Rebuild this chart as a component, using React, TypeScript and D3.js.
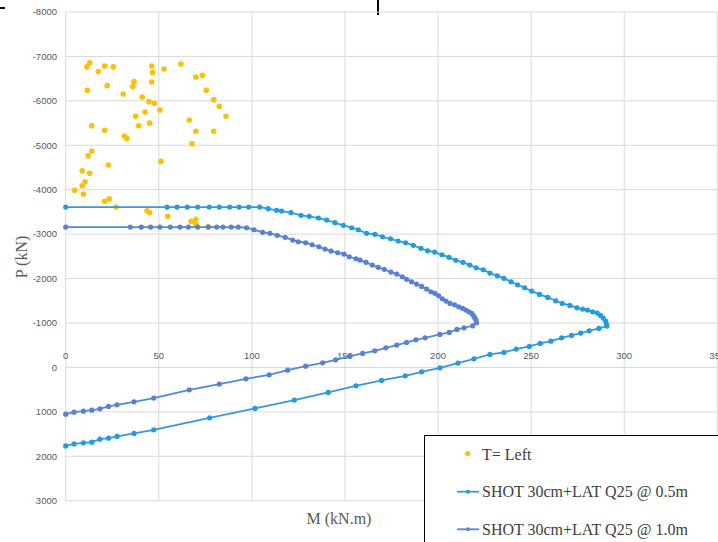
import { useMemo } from 'react';
import * as d3 from 'd3';

type Pt = [number, number];

// T= Left (scatter, M kN.m / P kN)
const tLeft: Pt[] = [
  [4.8, -3986], [9.5, -3903], [8.9, -4090], [10.4, -4180], [8.9, -4428], [12.9, -4369],
  [12.0, -4766], [14.0, -4872], [14.0, -5441], [11.6, -6239], [11.4, -6764], [12.9, -6854],
  [17.5, -6658], [20.9, -6786], [25.6, -6764], [22.3, -6342], [20.9, -5338], [22.9, -4556],
  [20.9, -3739], [23.4, -3797], [27.0, -3610], [30.9, -6155], [31.5, -5209], [32.9, -5149],
  [36.7, -6432], [36.1, -6320], [37.6, -5653], [39.2, -5441], [41.1, -6088], [42.6, -5750],
  [44.7, -5982], [45.1, -5502], [46.2, -6786], [46.7, -6635], [46.2, -6425], [47.6, -5946],
  [50.6, -5795], [52.8, -6718], [51.2, -4640], [43.7, -3527], [45.1, -3482], [54.8, -3401],
  [61.9, -6831], [69.9, -6538], [73.4, -6577], [75.5, -6239], [79.5, -6027], [82.5, -5878],
  [86.1, -5653], [79.5, -5315], [66.4, -5570], [69.9, -5315], [67.8, -5036], [67.3, -3288],
  [69.9, -3333], [69.9, -3221], [76.6, -3167],
];

// SHOT 30cm+LAT Q25 @ 0.5m
const shot05: Pt[] = [
  [0, -3610], [54.4, -3610], [59.8, -3610], [65.3, -3610], [70.9, -3610], [77.1, -3610],
  [82.5, -3610], [88.1, -3610], [93.1, -3610], [98.3, -3610], [104.2, -3610], [108.8, -3572],
  [113.3, -3536], [116.0, -3520], [121.0, -3482], [126.4, -3423], [130.8, -3401], [135.7, -3363],
  [140.2, -3318], [144.6, -3257], [149.1, -3198], [153.6, -3144], [157.2, -3099], [161.6, -3018],
  [166.1, -2995], [170.2, -2941], [174.5, -2896], [178.6, -2845], [182.6, -2806], [186.7, -2748],
  [190.8, -2680], [194.4, -2626], [198.2, -2597], [202.1, -2536], [205.9, -2477], [209.6, -2410],
  [213.4, -2365], [217.1, -2304], [220.5, -2243], [224.3, -2198], [227.9, -2124], [231.8, -2063],
  [235.4, -2005], [239.2, -1928], [242.7, -1860], [246.5, -1793], [250.3, -1718], [254.5, -1644],
  [259.0, -1576], [263.2, -1500], [266.7, -1441], [270.8, -1396], [274.6, -1342], [277.7, -1313],
  [280.3, -1291], [283.0, -1252], [285.5, -1223], [287.3, -1171], [288.7, -1110], [290.0, -1043],
  [290.5, -975], [290.7, -930], [286.4, -878], [281.2, -824], [276.6, -773], [271.7, -721],
  [266.4, -667], [260.6, -590], [254.9, -541], [249.0, -473], [242.0, -412], [235.4, -338],
  [227.9, -293], [219.3, -194], [210.7, -97], [201.0, 9], [191.2, 99], [182.4, 189],
  [169.7, 293], [155.9, 414], [141.0, 563], [122.8, 736], [101.7, 923], [77.3, 1135],
  [47.3, 1405], [36.7, 1486], [27.6, 1554], [23.0, 1592], [18.4, 1615], [14.0, 1682],
  [9.5, 1698], [4.5, 1721], [0, 1766],
];

// SHOT 30cm+LAT Q25 @ 1.0m
const shot10: Pt[] = [
  [0, -3160], [34.7, -3160], [40.6, -3160], [45.6, -3160], [50.6, -3160], [56.2, -3160],
  [61.4, -3160], [65.9, -3160], [70.9, -3160], [76.6, -3160], [81.1, -3160], [84.5, -3160],
  [88.9, -3160], [92.7, -3160], [97.2, -3144], [101.1, -3099], [105.8, -3041], [109.7, -3018],
  [113.6, -2973], [117.9, -2928], [121.9, -2867], [124.9, -2829], [128.9, -2806], [132.4, -2761],
  [136.0, -2716], [139.3, -2664], [142.5, -2619], [146.1, -2581], [149.5, -2552], [152.3, -2491],
  [155.9, -2446], [158.1, -2417], [161.3, -2365], [164.7, -2304], [167.9, -2252], [171.1, -2207],
  [174.7, -2146], [177.8, -2101], [180.8, -2041], [183.1, -1982], [185.8, -1928], [188.5, -1876],
  [191.2, -1824], [193.9, -1764], [196.2, -1703], [198.3, -1667], [200.3, -1613], [202.3, -1545],
  [204.3, -1493], [206.4, -1441], [208.9, -1410], [211.1, -1365], [213.2, -1329], [215.0, -1291],
  [216.6, -1252], [218.1, -1216], [219.1, -1162], [219.8, -1110], [220.4, -1059], [220.7, -1005],
  [218.6, -937], [214.0, -892], [210.2, -856], [206.0, -788], [201.0, -743], [193.1, -667],
  [188.1, -622], [183.1, -563], [177.8, -502], [172.0, -441], [166.0, -374], [159.5, -315],
  [152.3, -250], [145.0, -171], [138.0, -104], [128.9, -29], [119.2, 61], [109.3, 167],
  [96.8, 257], [82.5, 376], [66.4, 504], [47.3, 691], [36.7, 775], [27.6, 842],
  [23.0, 878], [18.4, 932], [14.0, 962], [9.5, 984], [4.5, 1007], [0, 1052],
];

const xTicks = [0, 50, 100, 150, 200, 250, 300, 350];
const yTicks = [-8000, -7000, -6000, -5000, -4000, -3000, -2000, -1000, 0, 1000, 2000, 3000];
const legendLabels = ['T= Left', 'SHOT 30cm+LAT Q25 @ 0.5m', 'SHOT 30cm+LAT Q25 @ 1.0m'];

const W = 718;
const H = 542;

export default function App() {
  const x = useMemo(() => d3.scaleLinear().domain([0, 350]).range([65.7, 717.3]), []);
  const y = useMemo(() => d3.scaleLinear().domain([-8000, 3000]).range([12, 500.7]), []);

  const line = d3
    .line<Pt>()
    .x((d) => x(d[0]))
    .y((d) => y(d[1]));

  const series = [
    { data: shot05, line: '#3a97dc', dot: '#1f9de2' },
    { data: shot10, line: '#4f8ad8', dot: '#5a80d4' },
  ];

  const tickFont = { fontFamily: '"Liberation Sans", Arial, sans-serif', fontSize: 9.5, fill: '#595959' };
  const serif = '"Liberation Serif", "Times New Roman", serif';

  return (
    <svg width={W} height={H} style={{ position: 'absolute', left: 0, top: 0, background: '#fff' }}>
      {/* cropped bits from the original screenshot */}
      <rect x={0} y={7} width={5} height={2} fill="#000" />
      <rect x={377} y={0} width={2} height={15} fill="#000" />

      {/* grid */}
      <g stroke="#d9d9d9" strokeWidth={1}>
        {yTicks.map((t) => (
          <line key={'h' + t} x1={x(0)} x2={x(350)} y1={y(t)} y2={y(t)} />
        ))}
        {xTicks.map((t) => (
          <line key={'v' + t} x1={x(t)} x2={x(t)} y1={y(-8000)} y2={y(3000)} />
        ))}
      </g>

      {/* y tick labels */}
      {yTicks.map((t) => (
        <text key={'yl' + t} x={57} y={y(t)} dy="0.35em" textAnchor="end" {...tickFont}>
          {String(t)}
        </text>
      ))}
      {/* x tick labels, sitting above the 0 line */}
      {xTicks.map((t) => (
        <text key={'xl' + t} x={x(t)} y={y(0) - 12} dy="0.35em" textAnchor="middle" {...tickFont}>
          {String(t)}
        </text>
      ))}

      {/* scatter */}
      <g fill="#ffc000">
        {tLeft.map((d, i) => (
          <circle key={'s' + i} cx={x(d[0])} cy={y(d[1])} r={2.8} />
        ))}
      </g>

      {/* interaction curves */}
      {series.map((s, si) => (
        <g key={'ser' + si}>
          <path d={line(s.data) ?? ''} fill="none" stroke={s.line} strokeWidth={1.8} />
          {s.data.map((d, i) => (
            <circle key={i} cx={x(d[0])} cy={y(d[1])} r={2.6} fill={s.dot} />
          ))}
        </g>
      ))}

      {/* axis titles */}
      <text
        transform={`translate(27,257) rotate(-90)`}
        textAnchor="middle"
        fontFamily={serif}
        fontSize={16}
        fill="#595959"
      >
        P (kN)
      </text>
      <text x={339} y={524} textAnchor="middle" fontFamily={serif} fontSize={16} fill="#595959">
        M (kN.m)
      </text>

      {/* legend */}
      <rect x={424.5} y={435.5} width={W} height={H} fill="#fff" stroke="#000" strokeWidth={1} />
      <circle cx={467.7} cy={453.5} r={2.6} fill="#ffc000" />
      <line x1={457} x2={479} y1={491.7} y2={491.7} stroke={series[0].line} strokeWidth={1.8} />
      <circle cx={468} cy={491.7} r={2} fill={series[0].dot} />
      <line x1={457} x2={479} y1={529.3} y2={529.3} stroke={series[1].line} strokeWidth={1.8} />
      <circle cx={468} cy={529.3} r={2} fill={series[1].dot} />
      {legendLabels.map((l, i) => (
        <text key={l} x={482} y={459.5 + i * 37.5} fontFamily={serif} fontSize={16} fill="#404040">
          {l}
        </text>
      ))}
    </svg>
  );
}
